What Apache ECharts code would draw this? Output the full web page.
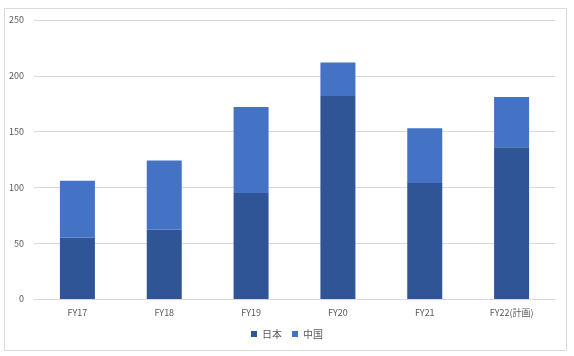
<!DOCTYPE html>
<html><head><meta charset="utf-8">
<script src="https://cdn.jsdelivr.net/npm/echarts@6/dist/echarts.min.js"></script>
<style>html,body{margin:0;padding:0;background:#fff}#c{width:574px;height:356px}</style>
</head><body><div id="c"></div>
<script>
const categories = ['FY17','FY18','FY19','FY20','FY21','FY22(計画)'];
const japan = [55, 62, 95, 182, 104, 136];
const china = [51, 62, 77, 30, 49, 45];
const yTicks = {min: 0, max: 250, interval: 50};

const chart = echarts.init(document.getElementById('c'));
const font = '"Noto Sans CJK JP", "Noto Sans", sans-serif';
chart.setOption({
  animation: false,
  textStyle: {fontFamily: font},
  graphic: [{type: 'rect', shape: {x: 4.5, y: 8.5, width: 562, height: 342}, style: {fill: 'none', stroke: '#d9d9d9', lineWidth: 1}, z: -1}],
  grid: {left: 34, right: 19, top: 20, bottom: 57},
  legend: {bottom: 12, left: 'center', itemWidth: 6, itemHeight: 6, itemGap: 10,
    icon: 'rect', textStyle: {fontSize: 10, color: '#595959', fontFamily: font},
    data: ['日本','中国']},
  xAxis: {type: 'category', data: categories,
    axisLine: {lineStyle: {color: '#d9d9d9'}}, axisTick: {show: false},
    axisLabel: {fontSize: 9, color: '#595959', margin: 9}},
  yAxis: {type: 'value', min: yTicks.min, max: yTicks.max, interval: yTicks.interval,
    axisLine: {show: false}, axisTick: {show: false},
    splitLine: {lineStyle: {color: '#d9d9d9'}},
    axisLabel: {fontSize: 9, color: '#595959', margin: 10}},
  series: [
    {name: '日本', type: 'bar', stack: 't', data: japan, barWidth: 35, itemStyle: {color: '#2F5597'}},
    {name: '中国', type: 'bar', stack: 't', data: china, barWidth: 35, itemStyle: {color: '#4472C4'}}
  ]
});
</script></body></html>
